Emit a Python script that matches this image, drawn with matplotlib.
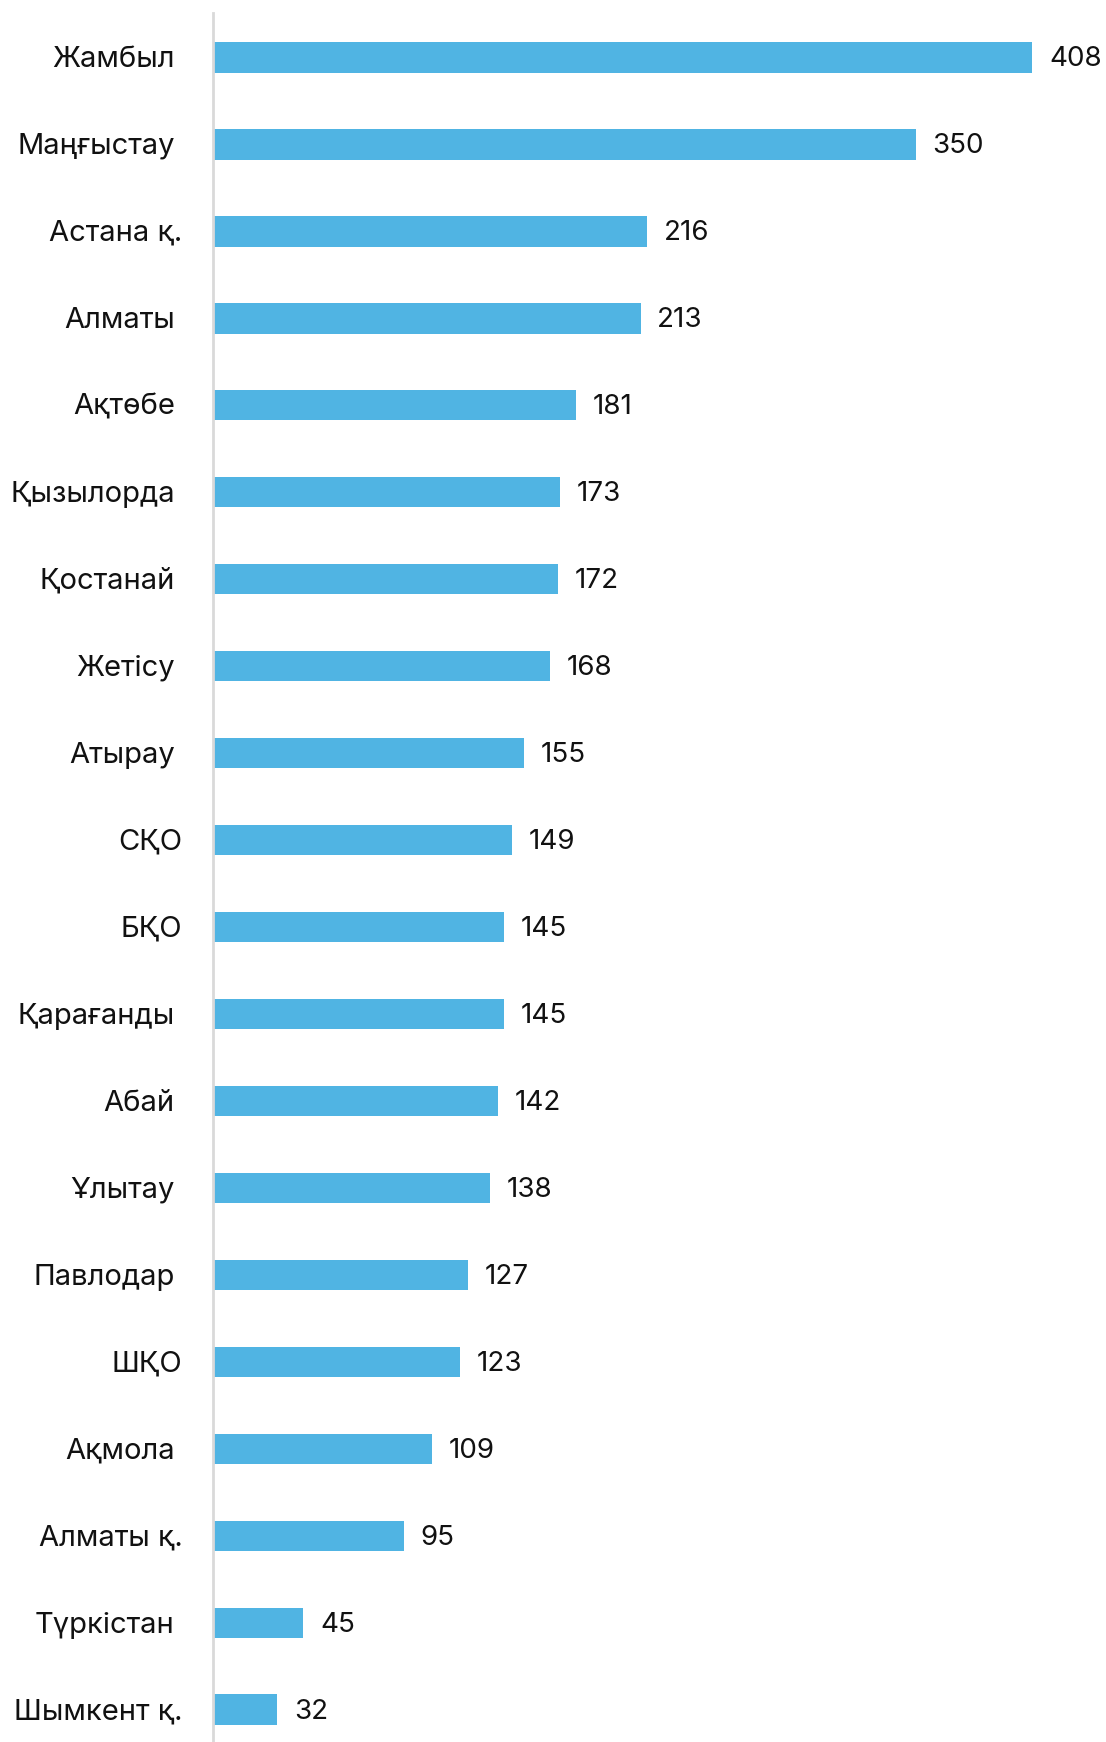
import matplotlib
matplotlib.use("Agg")
import matplotlib.pyplot as plt

regions = ['Жамбыл', 'Маңғыстау', 'Астана қ.', 'Алматы', 'Ақтөбе', 'Қызылорда',
           'Қостанай', 'Жетісу', 'Атырау', 'СҚО', 'БҚО', 'Қарағанды', 'Абай',
           'Ұлытау', 'Павлодар', 'ШҚО', 'Ақмола', 'Алматы қ.', 'Түркістан',
           'Шымкент қ.']
values = [408, 350, 216, 213, 181, 173, 172, 168, 155, 149, 145, 145, 142,
          138, 127, 123, 109, 95, 45, 32]
# labels that sit a bit closer to the axis line in the original
no_pad = {'Астана қ.', 'СҚО', 'БҚО', 'ШҚО', 'Алматы қ.', 'Шымкент қ.'}

plt.rcParams['font.family'] = ['Inter', 'DejaVu Sans']

W, H = 1106, 1742
fig = plt.figure(figsize=(W / 100, H / 100), dpi=100)
ax = fig.add_axes([213 / W, 0, 893 / W, 1729 / H])

y = list(range(len(regions)))
ax.barh(y, values, height=0.356, color='#50B4E3')

ax.set_xlim(0, 893 / 2.008)
ax.set_ylim(19.368, -0.506)

for s in ['top', 'right', 'bottom']:
    ax.spines[s].set_visible(False)
ax.spines['left'].set_color('#d9d9d9')
ax.spines['left'].set_linewidth(2)
ax.set_xticks([])
ax.set_yticks([])

for i, (name, v) in enumerate(zip(regions, values)):
    ax.annotate(str(v), (v, i), xytext=(12, -1.5), textcoords='offset points',
                va='center', ha='left', fontsize=20, color='#111111')
    off = -22 if name in no_pad else -27.5
    ax.annotate(name, (0, i), xytext=(off, -1.5), textcoords='offset points',
                va='center', ha='right', fontsize=21, color='#111111')

fig.savefig('out.png', dpi=100)
